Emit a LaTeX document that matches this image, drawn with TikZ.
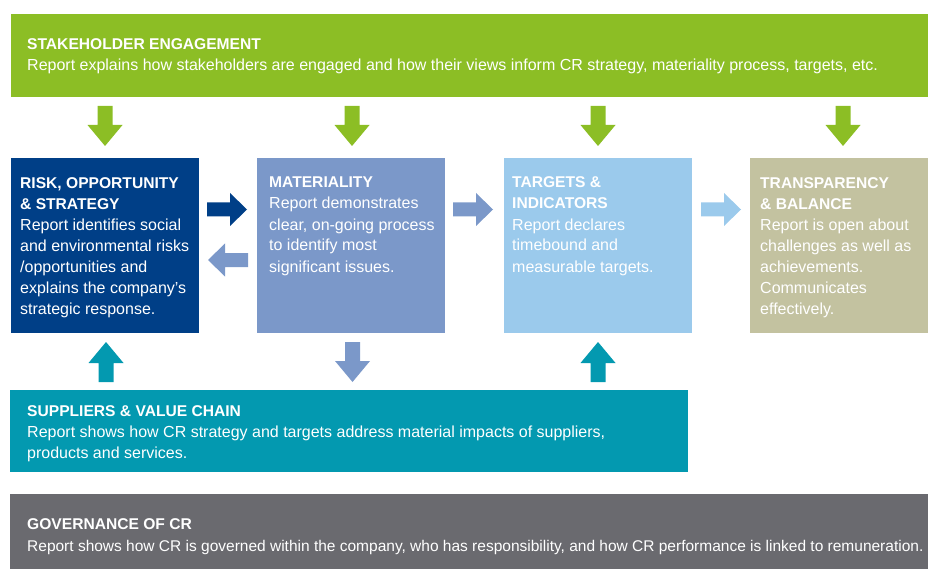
\documentclass[tikz,border=0pt]{standalone}
\usepackage{fontspec}
\setmainfont{Liberation Sans}
\definecolor{cgreen}{HTML}{8CBE25}
\definecolor{cdark}{HTML}{003F87}
\definecolor{cmat}{HTML}{7B98C9}
\definecolor{clight}{HTML}{9BCAEC}
\definecolor{ckhaki}{HTML}{C3C2A0}
\definecolor{cteal}{HTML}{0399B0}
\definecolor{cgray}{HTML}{6A6A6F}
\newcommand\myarrowdown[3]{% center x, top y, colour
  \fill[#3] (#1-7.5,#2) -- (#1+7.5,#2) -- (#1+7.5,#2+19) -- (#1+17.5,#2+19) -- (#1,#2+40) -- (#1-17.5,#2+19) -- (#1-7.5,#2+19) -- cycle;}
\newcommand\myarrowup[3]{% center x, top y (tip), colour
  \fill[#3] (#1,#2) -- (#1+17.5,#2+21) -- (#1+7.5,#2+21) -- (#1+7.5,#2+40) -- (#1-7.5,#2+40) -- (#1-7.5,#2+21) -- (#1-17.5,#2+21) -- cycle;}
\newcommand\myarrowright[3]{% left x, center y, colour
  \fill[#3] (#1,#2-7) -- (#1+23,#2-7) -- (#1+23,#2-16.5) -- (#1+40,#2) -- (#1+23,#2+16.5) -- (#1+23,#2+7) -- (#1,#2+7) -- cycle;}
\newcommand\myarrowleft[3]{% left x (tip), center y, colour
  \fill[#3] (#1,#2) -- (#1+17,#2-16.5) -- (#1+17,#2-7) -- (#1+40,#2-7) -- (#1+40,#2+7) -- (#1+17,#2+7) -- (#1+17,#2+16.5) -- cycle;}
\newcommand\ttl[1]{{\fontsize{15.6}{21}\selectfont\bfseries #1}}
\begin{document}
\begin{tikzpicture}[x=1pt,y=-1pt,
  band/.style={fill=#1, inner sep=0pt, outer sep=0pt, anchor=north west},
  txt/.style={anchor=base west, inner sep=0pt, align=left, text=white,
    font=\fontsize{16}{21}\selectfont}]
\useasboundingbox (0,0) rectangle (928,569);
% bands and boxes
\node[band=cgreen, minimum width=917pt, minimum height=83pt] (se) at (11,14) {};
\node[band=cdark,  minimum width=188pt, minimum height=175pt] (risk) at (11,158) {};
\node[band=cmat,   minimum width=188pt, minimum height=175pt] (mat) at (257,158) {};
\node[band=clight, minimum width=188pt, minimum height=175pt] (tar) at (504,158) {};
\node[band=ckhaki, minimum width=178pt, minimum height=175pt] (tra) at (750,158) {};
\node[band=cteal,  minimum width=678pt, minimum height=82pt] (sup) at (10,390) {};
\node[band=cgray,  minimum width=918pt, minimum height=76pt] (gov) at (10,494) {};
% texts (anchor = baseline of the last line)
\node[txt] (set) at (27,71) {\ttl{STAKEHOLDER ENGAGEMENT}\\Report explains how stakeholders are engaged and how their views inform CR strategy, materiality process, targets, etc.};
\node[txt] (riskt) at (20,314) {\ttl{RISK, OPPORTUNITY}\\\ttl{\& STRATEGY}\\Report identifies social\\and environmental risks\\/opportunities and\\explains the company’s\\strategic response.};
\node[txt] (matt) at (269,272) {\ttl{MATERIALITY}\\Report demonstrates\\clear, on-going process\\to identify most\\significant issues.};
\node[txt] (tart) at (512,272) {\ttl{TARGETS \&}\\\ttl{INDICATORS}\\Report declares\\timebound and\\measurable targets.};
\node[txt] (trat) at (760,314) {\ttl{TRANSPARENCY}\\\ttl{\& BALANCE}\\Report is open about\\challenges as well as\\achievements.\\Communicates\\effectively.};
\node[txt] (supt) at (27,458) {\ttl{SUPPLIERS \& VALUE CHAIN}\\Report shows how CR strategy and targets address material impacts of suppliers,\\products and services.};
\node[txt, font=\fontsize{15.5}{22}\selectfont] (govt) at (27,551) {\ttl{GOVERNANCE OF CR}\\Report shows how CR is governed within the company, who has responsibility, and how CR performance is linked to remuneration.};
% arrows
\myarrowdown{105}{106}{cgreen}
\myarrowdown{352}{106}{cgreen}
\myarrowdown{598}{106}{cgreen}
\myarrowdown{843}{106}{cgreen}
\myarrowright{207}{209.5}{cdark}
\myarrowleft{208}{260}{cmat}
\myarrowright{453}{209.5}{cmat}
\myarrowright{701}{209.5}{clight}
\myarrowup{106}{342}{cteal}
\myarrowup{598}{342}{cteal}
\myarrowdown{352.5}{342}{cmat}
\end{tikzpicture}
\end{document}
